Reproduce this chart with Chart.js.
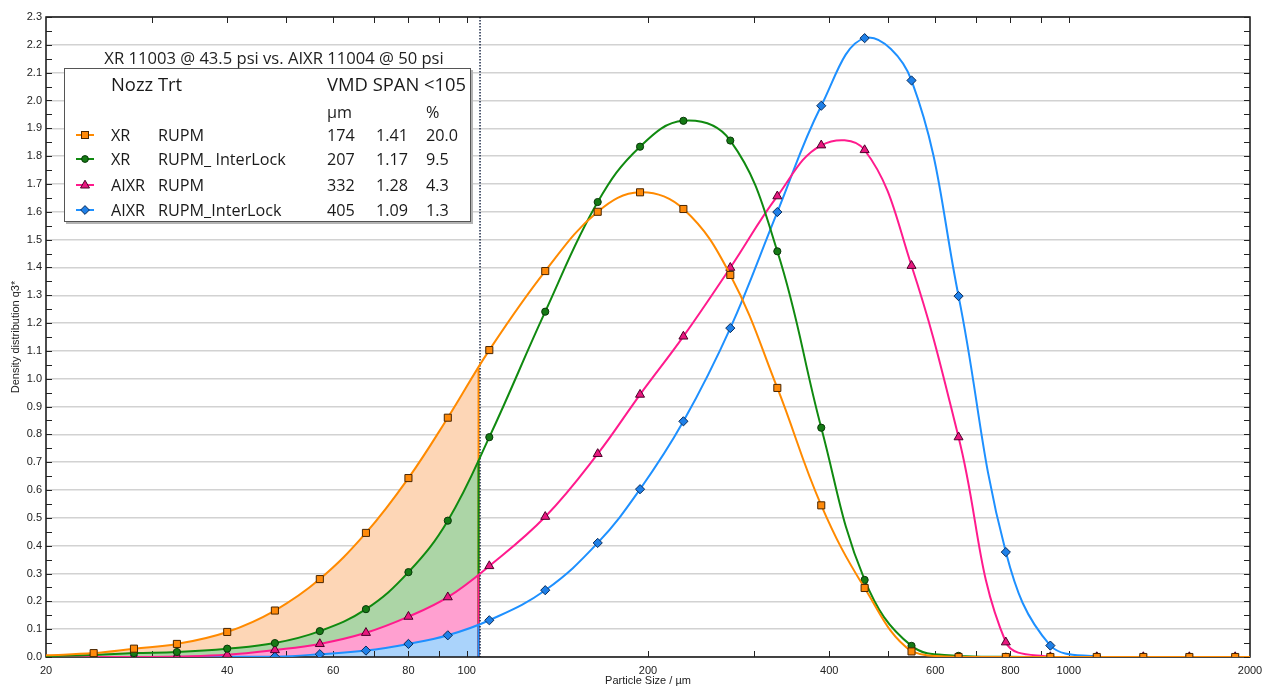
<!DOCTYPE html>
<html>
<head>
<meta charset="utf-8">
<title>Particle size distribution</title>
<script src="https://cdn.jsdelivr.net/npm/chart.js@4.4.1/dist/chart.umd.min.js"></script>
<style>
  html, body { margin: 0; padding: 0; background: #fff; }
  #wrap { position: relative; width: 1264px; height: 686px; overflow: hidden; }
  #wrap canvas { position: absolute; left: 0; top: 0; }
  #caption {
    position: absolute; left: 64px; top: 46px; width: 420px;
    text-align: center; font: 16.6px "Open Sans", sans-serif; color: #222;
    white-space: nowrap;
  }
  #legend {
    position: absolute; left: 64px; top: 68px; width: 405px; height: 152px;
    background: #fff; border: 1px solid #555; box-shadow: 2px 2px 0 #b4b4b4;
    font: 16.2px "Open Sans", sans-serif; color: #1a1a1a;
  }
  #legend span { position: absolute; white-space: nowrap; line-height: 22px; }
  #legend span.big { font-size: 18.4px; }
  #legend svg { position: absolute; }
</style>
</head>
<body>
<div id="wrap">
  <canvas id="psd" width="1264" height="686"></canvas>
  <div id="caption"></div>
  <div id="legend"></div>
</div>
<script>
// size classes (µm) and density q3* for each nozzle / treatment
const sizes = [20, 24, 28, 33, 40, 48, 57, 68, 80, 93, 109, 135, 165, 194, 229, 274, 328, 388, 458, 548, 656, 786, 932, 1113, 1330, 1586, 1890, 2000];
const xrRupm = [0.006, 0.014, 0.03, 0.047, 0.09, 0.167, 0.28, 0.446, 0.643, 0.86, 1.103, 1.387, 1.60, 1.67, 1.61, 1.373, 0.967, 0.545, 0.248, 0.02, 0, 0, 0, 0, 0, 0, 0, 0];
const xrInterlock = [0.003, 0.007, 0.014, 0.018, 0.03, 0.05, 0.093, 0.172, 0.305, 0.49, 0.79, 1.241, 1.635, 1.834, 1.927, 1.856, 1.458, 0.824, 0.277, 0.04, 0.004, 0.001, 0, 0, 0, 0, 0, 0];
const aixrRupm = [0, 0, 0, 0.002, 0.008, 0.025, 0.047, 0.087, 0.145, 0.215, 0.327, 0.504, 0.73, 0.943, 1.152, 1.399, 1.656, 1.839, 1.822, 1.406, 0.79, 0.053, 0, 0, 0, 0, 0, 0];
const aixrInterlock = [0, 0, 0, 0, 0.001, 0.001, 0.01, 0.023, 0.047, 0.078, 0.132, 0.24, 0.41, 0.603, 0.847, 1.182, 1.599, 1.981, 2.224, 2.072, 1.297, 0.377, 0.041, 0.001, 0, 0, 0, 0];

// driftable fraction cutoff
const cutoff = 105;

// axis ticks
const yTickValues = [];
for (let i = 0; i <= 23; i++) yTickValues.push(i / 10);
const xTickValues = [20, 30, 40, 50, 60, 70, 80, 90, 100, 200, 300, 400, 500, 600, 700, 800, 900, 1000, 2000];
const xTickLabels = [20, 40, 60, 80, 100, 200, 400, 600, 800, 1000, 2000];

// legend table
const chartCaption = 'XR 11003 @ 43.5 psi vs. AIXR 11004 @ 50 psi';
const nozzles = ['XR', 'XR', 'AIXR', 'AIXR'];
const treatments = ['RUPM', 'RUPM_ InterLock', 'RUPM', 'RUPM_InterLock'];
const vmd = ['174', '207', '332', '405'];
const spanValues = ['1.41', '1.17', '1.28', '1.09'];
const below105 = ['20.0', '9.5', '4.3', '1.3'];

const series = [
  { values: xrRupm, color: '#ff8a00', shade: '#fdd6b6', fill: '#ff8a0a', edge: '#4a2600', style: 'rect', radius: 5 },
  { values: xrInterlock, color: '#108a10', shade: '#acd5a6', fill: '#157a15', edge: '#083808', style: 'circle', radius: 3.6 },
  { values: aixrRupm, color: '#ff1b8d', shade: '#ffa0d0', fill: '#e8187f', edge: '#4a0028', style: 'triangle', radius: 5.2 },
  { values: aixrInterlock, color: '#1e90ff', shade: '#aad3fb', fill: '#1f80e8', edge: '#0a2c5a', style: 'rectRot', radius: 4.6 }
];

const lastIndex = sizes.length - 1;

const datasets = series.map((s, i) => ({
  label: nozzles[i] + ' ' + treatments[i],
  data: sizes.map((x, j) => ({ x: x, y: s.values[j] })),
  borderColor: s.color,
  borderWidth: 2,
  backgroundColor: s.fill,
  fill: false,
  tension: 0.4,
  pointStyle: s.style,
  pointRadius: ctx => (ctx.dataIndex === 0 || ctx.dataIndex === lastIndex) ? 0 : s.radius,
  pointBackgroundColor: s.fill,
  pointBorderColor: s.edge,
  pointBorderWidth: 1,
  clip: 0
}));

// shaded area under each curve up to the cutoff, plus the frame and tick marks
const shadePlugin = {
  id: 'shadeBelowCutoff',
  beforeDatasetsDraw(chart) {
    const { ctx, chartArea, scales } = chart;
    const xCut = scales.x.getPixelForValue(cutoff);
    const y0 = scales.y.getPixelForValue(0);

    ctx.save();
    ctx.beginPath();
    ctx.rect(chartArea.left, chartArea.top, xCut - chartArea.left, chartArea.bottom - chartArea.top);
    ctx.clip();
    series.forEach((s, i) => {
      const line = chart.getDatasetMeta(i).dataset;
      const pts = line.points;
      ctx.beginPath();
      line.path(ctx);
      ctx.lineTo(pts[pts.length - 1].x, y0);
      ctx.lineTo(pts[0].x, y0);
      ctx.closePath();
      ctx.fillStyle = s.shade;
      ctx.fill();
    });
    ctx.restore();

    // coloured edge of each shaded area
    ctx.save();
    ctx.lineWidth = 2;
    series.forEach((s, i) => {
      const line = chart.getDatasetMeta(i).dataset;
      const p = line.interpolate({ x: xCut - 1 }, 'x');
      if (!p) return;
      ctx.strokeStyle = s.color;
      ctx.beginPath();
      ctx.moveTo(xCut - 1, p.y);
      ctx.lineTo(xCut - 1, y0);
      ctx.stroke();
    });
    ctx.restore();

    // dotted cutoff marker
    ctx.save();
    ctx.strokeStyle = '#1c2a48';
    ctx.lineWidth = 1.5;
    ctx.setLineDash([1.5, 1.5]);
    ctx.beginPath();
    ctx.moveTo(xCut + 0.5, chartArea.top);
    ctx.lineTo(xCut + 0.5, chartArea.bottom);
    ctx.stroke();
    ctx.restore();

    // frame
    ctx.save();
    ctx.strokeStyle = '#111';
    ctx.lineWidth = 1.5;
    ctx.strokeRect(chartArea.left, chartArea.top, chartArea.right - chartArea.left, chartArea.bottom - chartArea.top);

    // tick marks pointing inwards
    ctx.lineWidth = 1;
    ctx.strokeStyle = '#222';
    ctx.beginPath();
    for (let i = 0; i <= 46; i++) {
      const y = Math.round(scales.y.getPixelForValue(i * 0.05)) + 0.5;
      ctx.moveTo(chartArea.left, y); ctx.lineTo(chartArea.left + 6, y);
      ctx.moveTo(chartArea.right, y); ctx.lineTo(chartArea.right - 6, y);
    }
    xTickValues.forEach(v => {
      const x = Math.round(scales.x.getPixelForValue(v)) + 0.5;
      if (x <= chartArea.left + 1 || x >= chartArea.right - 1) return;
      ctx.moveTo(x, chartArea.bottom); ctx.lineTo(x, chartArea.bottom - 6);
      ctx.moveTo(x, chartArea.top); ctx.lineTo(x, chartArea.top + 6);
    });
    ctx.stroke();
    ctx.restore();
  }
};

const axisFont = { family: '"Liberation Sans", Arial, sans-serif', size: 11 };

new Chart(document.getElementById('psd'), {
  type: 'line',
  data: { datasets: datasets },
  options: {
    responsive: false,
    animation: false,
    layout: { padding: { left: 0, top: 17, right: 14, bottom: 0 } },
    plugins: {
      legend: { display: false },
      tooltip: { enabled: false }
    },
    scales: {
      x: {
        type: 'logarithmic',
        min: 20,
        max: 2000,
        afterBuildTicks: scale => { scale.ticks = xTickValues.map(v => ({ value: v })); },
        afterFit: scale => {
          scale.height = 29;
          scale.paddingLeft = 0;
          scale.paddingRight = 0;
        },
        ticks: {
          autoSkip: false,
          maxRotation: 0,
          padding: 7,
          color: '#222',
          font: axisFont,
          callback: v => xTickLabels.includes(v) ? String(v) : ''
        },
        grid: { display: false, drawTicks: false },
        border: { display: false },
        title: { display: true, text: 'Particle Size / µm', color: '#222', font: axisFont, padding: { top: 0, bottom: -2 } }
      },
      y: {
        min: 0,
        max: 2.3,
        afterBuildTicks: scale => { scale.ticks = yTickValues.map(v => ({ value: v })); },
        afterFit: scale => {
          scale.width = 46;
          scale.paddingTop = 0;
          scale.paddingBottom = 0;
        },
        ticks: {
          padding: 4,
          color: '#222',
          font: axisFont,
          callback: v => v.toFixed(1)
        },
        grid: { color: '#d2d2d2', lineWidth: 1.5, drawTicks: false },
        border: { display: false },
        title: { display: true, text: 'Density distribution q3*', color: '#222', font: axisFont, padding: { top: 9, bottom: 0 } }
      }
    }
  },
  plugins: [shadePlugin]
});

// legend box
document.getElementById('caption').textContent = chartCaption;
const legend = document.getElementById('legend');

function addText(text, left, centerY, cls) {
  const el = document.createElement('span');
  el.textContent = text;
  el.style.left = left + 'px';
  el.style.top = (centerY - 11) + 'px';
  if (cls) el.className = cls;
  legend.appendChild(el);
}

function markerSvg(s) {
  let shape = '';
  if (s.style === 'rect') shape = '<rect x="6.5" y="3.5" width="7" height="7"/>';
  else if (s.style === 'circle') shape = '<circle cx="10" cy="7" r="3.4"/>';
  else if (s.style === 'triangle') shape = '<polygon points="10,2.2 14.5,10 5.5,10"/>';
  else shape = '<polygon points="10,2.6 14.4,7 10,11.4 5.6,7"/>';
  return '<svg width="20" height="14" viewBox="0 0 20 14">' +
    '<line x1="1" y1="7" x2="19" y2="7" stroke="' + s.color + '" stroke-width="2"/>' +
    '<g fill="' + s.fill + '" stroke="' + s.edge + '" stroke-width="1">' + shape + '</g></svg>';
}

addText('Nozz Trt', 46, 15, 'big');
addText('VMD SPAN <105', 262, 15, 'big');
addText('µm', 262, 43);
addText('%', 361, 43);

const rowCenters = [66, 90, 116, 141];
series.forEach((s, i) => {
  const y = rowCenters[i];
  const holder = document.createElement('div');
  holder.innerHTML = markerSvg(s);
  const svg = holder.firstChild;
  svg.style.left = '10px';
  svg.style.top = (y - 7) + 'px';
  legend.appendChild(svg);
  addText(nozzles[i], 46, y);
  addText(treatments[i], 93, y);
  addText(vmd[i], 262, y);
  addText(spanValues[i], 311, y);
  addText(below105[i], 361, y);
});
</script>
</body>
</html>
